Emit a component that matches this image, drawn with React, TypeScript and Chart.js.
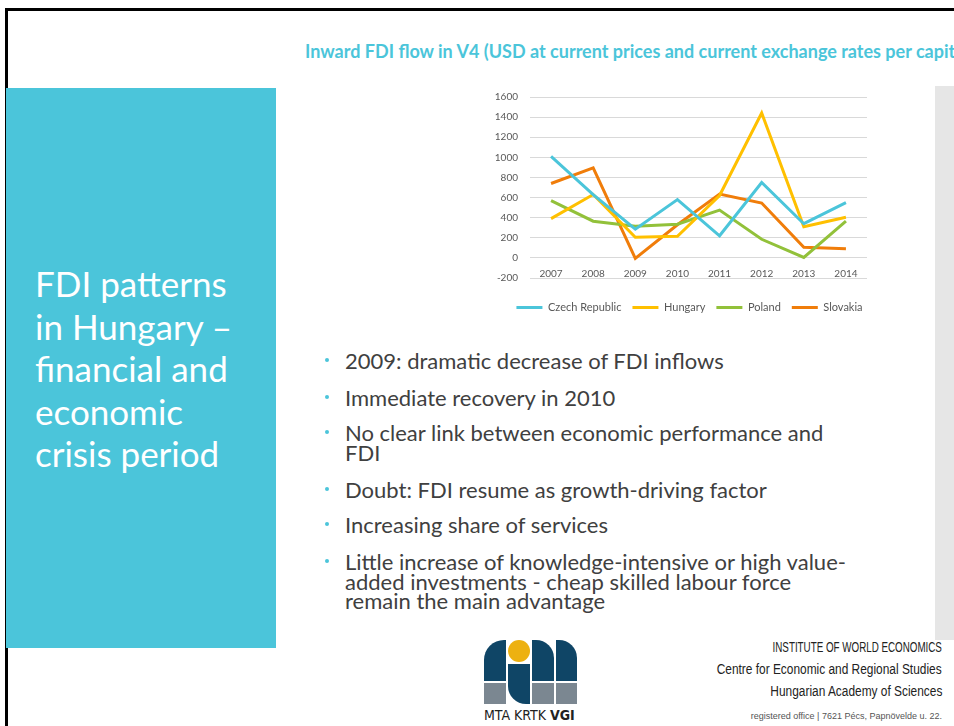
import React, { useEffect, useRef } from "react";
import { Chart, registerables } from "chart.js";

Chart.register(...registerables);

const years = ["2007", "2008", "2009", "2010", "2011", "2012", "2013", "2014"];
const czechRepublic = [1010, 630, 285, 580, 220, 750, 340, 550];
const hungary = [390, 630, 205, 215, 620, 1440, 310, 405];
const poland = [570, 365, 315, 335, 475, 185, 5, 365];
const slovakia = [740, 895, -5, 330, 635, 545, 105, 90];
const yTicks = [-200, 0, 200, 400, 600, 800, 1000, 1200, 1400, 1600];

const seriesNames = ["Czech Republic", "Hungary", "Poland", "Slovakia"];
const seriesColors = ["#4BC5DA", "#FFC000", "#92C13A", "#F07D0A"];

const bullets = [
  ["2009: dramatic decrease of FDI inflows"],
  ["Immediate recovery in 2010"],
  ["No clear link between economic performance and", "FDI"],
  ["Doubt: FDI resume as growth-driving factor"],
  ["Increasing share of services"],
  [
    "Little increase of knowledge-intensive or high value-",
    "added investments -  cheap skilled labour force",
    "remain the main advantage",
  ],
];
const bulletTops = [351, 388, 423, 480, 515, 552];

const FONT = "Lato, 'Open Sans', sans-serif";

const legendShift = {
  id: "legendShift",
  afterLayout(chart: any) {
    const lg = chart.legend;
    if (!lg) return;
    lg.top += 13;
    lg.bottom += 13;
    lg.left += 16;
    lg.right += 16;
  },
};

function FdiChart() {
  const ref = useRef<HTMLCanvasElement | null>(null);
  useEffect(() => {
    if (!ref.current) return;
    const series = [czechRepublic, hungary, poland, slovakia];
    const chart = new Chart(ref.current, {
      type: "line",
      data: {
        labels: years,
        datasets: series.map((d, i) => ({
          label: seriesNames[i],
          data: d,
          borderColor: seriesColors[i],
          backgroundColor: seriesColors[i],
          borderWidth: 3,
          pointRadius: 0,
          tension: 0,
          fill: false,
        })),
      },
      plugins: [legendShift],
      options: {
        animation: false,
        responsive: false,
        layout: { padding: { left: 0, right: 13, top: 8, bottom: 13 } },
        plugins: {
          tooltip: { enabled: false },
          legend: {
            position: "bottom",
            labels: {
              boxWidth: 26,
              boxHeight: 3,
              padding: 11,
              color: "#595959",
              font: { family: FONT, size: 11 },
              generateLabels: (c: any) =>
                c.data.datasets.map((ds: any, i: number) => ({
                  text: ds.label,
                  fillStyle: ds.borderColor,
                  strokeStyle: ds.borderColor,
                  lineWidth: 0,
                  hidden: false,
                  datasetIndex: i,
                  fontColor: "#595959",
                })),
            },
          },
        },
        scales: {
          x: {
            type: "category",
            offset: true,
            position: { y: 0 } as any,
            grid: { display: false },
            border: { display: false },
            ticks: {
              color: "#595959",
              font: { family: FONT, size: 10 },
              padding: 2,
              maxRotation: 0,
            },
          },
          y: {
            min: -200,
            max: 1600,
            afterFit: (s: any) => {
              s.width = 50;
            },
            afterBuildTicks: (s: any) => {
              s.ticks = yTicks.map((v) => ({ value: v }));
            },
            grid: { color: "#D9D9D9", lineWidth: 1, drawTicks: false },
            border: { display: false },
            ticks: {
              color: "#595959",
              font: { family: FONT, size: 10 },
              padding: 12,
              callback: (v: any) => String(v),
            },
          },
        },
      },
    });
    return () => chart.destroy();
  }, []);
  return <canvas ref={ref} width={400} height={244} />;
}

function Logo() {
  const navy = "#0F4566";
  const gray = "#7B8791";
  const box = (s: React.CSSProperties) => (
    <div style={{ position: "absolute", ...s }} />
  );
  return (
    <div style={{ position: "absolute", left: 484, top: 640, width: 94, height: 86 }}>
      {box({ left: 0, top: 0, width: 22, height: 41, background: navy, borderTopLeftRadius: 20 })}
      {box({ left: 0, top: 43, width: 22, height: 21, background: gray })}
      {box({ left: 24, top: 0, width: 22, height: 22, background: "#EDB111", borderRadius: "50%" })}
      {box({ left: 24, top: 24, width: 22, height: 40, background: navy, borderBottomLeftRadius: 18 })}
      {box({ left: 48, top: 0, width: 22, height: 41, background: navy, borderTopRightRadius: 18 })}
      {box({ left: 48, top: 43, width: 22, height: 21, background: gray })}
      {box({ left: 72, top: 0, width: 21, height: 41, background: navy, borderTopRightRadius: 18 })}
      {box({ left: 72, top: 43, width: 21, height: 21, background: gray })}
      <div
        style={{
          position: "absolute",
          left: 0,
          top: 67,
          fontFamily: "'Liberation Sans Narrow', 'DejaVu Sans Condensed', sans-serif",
          fontSize: 14,
          color: "#222",
          whiteSpace: "nowrap",
        }}
      >
        MTA KRTK <b>VGI</b>
      </div>
    </div>
  );
}

function FooterLine({ text, size, scale, lh, color }: { text: string; size: number; scale: number; lh: number; color: string }) {
  return (
    <div style={{ height: lh, lineHeight: lh + "px", textAlign: "right" }}>
      <span
        style={{
          display: "inline-block",
          fontSize: size,
          color,
          transform: `scaleX(${scale})`,
          transformOrigin: "right center",
          whiteSpace: "nowrap",
        }}
      >
        {text}
      </span>
    </div>
  );
}

export default function App() {
  const cond = "'Liberation Sans', Arial, sans-serif";
  return (
    <div
      style={{
        position: "absolute",
        left: 0,
        top: 0,
        width: 954,
        height: 726,
        overflow: "hidden",
        background: "#fff",
        fontFamily: FONT,
      }}
    >
      <div
        style={{
          position: "absolute",
          left: 5,
          top: 8,
          width: 1000,
          height: 800,
          borderTop: "3px solid #000",
          borderLeft: "3px solid #000",
        }}
      />
      <div style={{ position: "absolute", left: 6, top: 88, width: 270, height: 560, background: "#4BC5DA" }} />
      <div style={{ position: "absolute", left: 935, top: 86, width: 19, height: 554, background: "#E6E6E6" }} />
      <div
        style={{
          position: "absolute",
          left: 35,
          top: 262,
          color: "#fff",
          fontSize: 35,
          lineHeight: "42.5px",
          whiteSpace: "nowrap",
        }}
      >
        FDI patterns
        <br />
        in Hungary –
        <br />
        financial and
        <br />
        economic
        <br />
        crisis period
      </div>
      <div
        style={{
          position: "absolute",
          left: 305,
          top: 40,
          color: "#4BC5DA",
          fontSize: 18,
          fontWeight: 700,
          whiteSpace: "nowrap",
        }}
      >
        Inward FDI flow in V4 (USD at current prices and current exchange rates per capita)
      </div>
      <div style={{ position: "absolute", left: 480, top: 79 }}>
        <FdiChart />
      </div>
      {bullets.map((lines, i) => (
        <div key={i} style={{ position: "absolute", left: 322, top: bulletTops[i], whiteSpace: "nowrap" }}>
          <span style={{ position: "absolute", left: 3, top: 7, width: 4, height: 4, borderRadius: 2, background: "#4BC5DA" }} />
          <div style={{ marginLeft: 23, fontSize: 22, lineHeight: "19.5px", color: "#404040" }}>
            {lines.map((l, j) => (
              <div key={j}>{l}</div>
            ))}
          </div>
        </div>
      ))}
      <Logo />
      <div
        style={{
          position: "absolute",
          right: 12,
          top: 636,
          fontFamily: cond,
          whiteSpace: "nowrap",
        }}
      >
        <FooterLine text="INSTITUTE OF WORLD ECONOMICS" size={14} scale={0.7} lh={22} color="#222" />
        <FooterLine text="Centre for Economic and Regional Studies" size={14} scale={0.85} lh={22} color="#222" />
        <FooterLine text="Hungarian Academy of Sciences" size={14} scale={0.85} lh={22} color="#222" />
        <FooterLine text="registered office  |  7621 Pécs, Papnövelde u. 22." size={9} scale={1} lh={24} color="#555" />
      </div>
    </div>
  );
}
